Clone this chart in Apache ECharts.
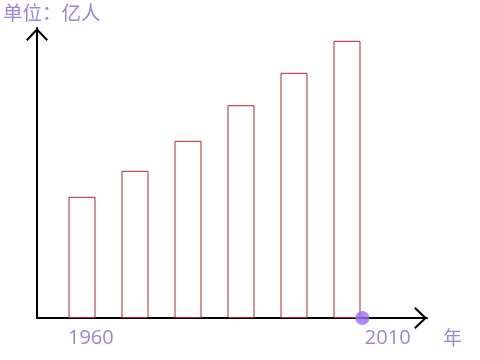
<!DOCTYPE html>
<html>
<head>
<meta charset="utf-8">
<script src="https://cdn.jsdelivr.net/npm/echarts@6/dist/echarts.min.js"></script>
<style>
html,body{margin:0;padding:0;background:#fff;}
#c{width:480px;height:360px;}
</style>
</head>
<body>
<div id="c"></div>
<script>
// Data
var years = [1960, 1970, 1980, 1990, 2000, 2010];
var population = [30.3, 36.8, 44.3, 53.2, 61.3, 69.3]; // 亿人
var tickLabels = ['1960', '2010'];
var markerYear = [2012.9];
var yUnit = '单位：亿人';
var xUnit = '年';

var textColor = '#9d84dc';
var chevron = 'path://M11,0 L22,11.5 L20.5,13 L11,3 L1.5,13 L0,11.5 Z';

var chart = echarts.init(document.getElementById('c'), null, {renderer: 'canvas'});

var barData = years.map(function (y, i) { return [y, population[i]]; });
var dotData = markerYear.map(function (y) { return [y, 0]; });

var axisLineCommon = {
  show: true,
  lineStyle: {color: '#000', width: 2},
  symbol: ['none', chevron],
  symbolSize: [22, 13],
  symbolOffset: [0, -6.5]
};

var xMin = 1951.5094, xMax = 2025.0943;

chart.setOption({
  animation: false,
  backgroundColor: '#fff',
  grid: {left: 37, right: 53, top: 28, bottom: 42, containLabel: false},
  xAxis: {
    type: 'value',
    min: xMin,
    max: xMax,
    axisLine: axisLineCommon,
    axisTick: {show: false},
    axisLabel: {show: false},
    splitLine: {show: false}
  },
  yAxis: {
    type: 'value',
    min: 0,
    max: 72.5,
    axisLine: axisLineCommon,
    axisTick: {show: false},
    axisLabel: {show: false},
    splitLine: {show: false}
  },
  series: [
    {
      type: 'bar',
      data: barData,
      barWidth: 27,
      itemStyle: {color: '#fff', borderColor: '#bb2228', borderWidth: 1}
    },
    {
      type: 'scatter',
      data: dotData,
      symbol: 'circle',
      symbolSize: 14,
      clip: false,
      z: 5,
      itemStyle: {color: '#9c6bf2'}
    }
  ]
});

var font = '"Open Sans", "Noto Sans CJK SC", sans-serif';
var p1960 = chart.convertToPixel({xAxisIndex: 0}, years[0]);
var pDot = chart.convertToPixel({xAxisIndex: 0}, markerYear[0]);
var yBase = chart.convertToPixel({yAxisIndex: 0}, 0);
var pEndX = chart.convertToPixel({xAxisIndex: 0}, xMax);

chart.setOption({
  graphic: [
    {type: 'text', left: 3, top: 3, style: {text: yUnit, fill: textColor, font: '19.5px "Noto Sans CJK SC", sans-serif'}},
    {type: 'text', x: p1960 - 14, y: yBase + 20, style: {text: tickLabels[0], fill: textColor, font: '20px ' + font, textVerticalAlign: 'middle'}},
    {type: 'text', x: pDot + 2.5, y: yBase + 20, style: {text: tickLabels[1], fill: textColor, font: '20px ' + font, textVerticalAlign: 'middle'}},
    {type: 'text', x: pEndX + 16, y: yBase + 20, style: {text: xUnit, fill: textColor, font: '19px "Noto Sans CJK SC", sans-serif', textVerticalAlign: 'middle'}}
  ]
});
</script>
</body>
</html>
